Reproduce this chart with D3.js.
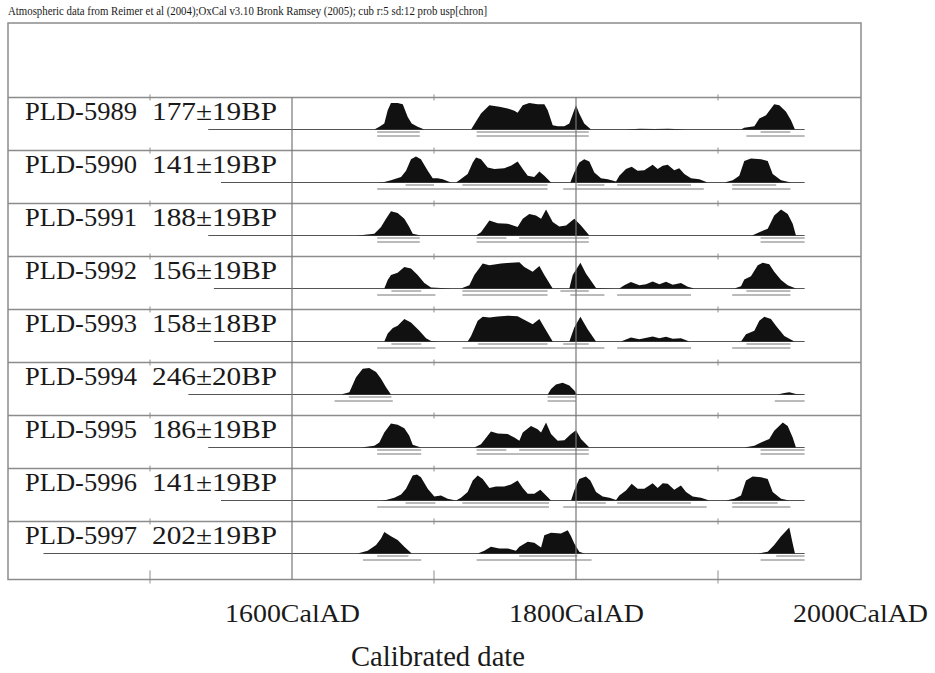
<!DOCTYPE html>
<html>
<head>
<meta charset="utf-8">
<script src="https://cdn.jsdelivr.net/npm/d3@7"></script>
<style>
  body { margin: 0; background: #fff; }
  text { font-family: "Liberation Serif", "Times New Roman", serif; fill: #1a1a1a; }
</style>
</head>
<body>
<div id="chart"></div>
<script>
// sample names and radiocarbon ages
const names = ["PLD-5989", "PLD-5990", "PLD-5991", "PLD-5992", "PLD-5993", "PLD-5994", "PLD-5995", "PLD-5996", "PLD-5997"]
const ages = ["177±19BP", "141±19BP", "188±19BP", "156±19BP", "158±18BP", "246±20BP", "186±19BP", "141±19BP", "202±19BP"]

// where the line under each distribution starts (cal AD); all end at 1961
const baseStart = [1541, 1550, 1541, 1545, 1545, 1527, 1541, 1550, 1425]
const baseEnd = 1961

// calibrated probability, [year, relative height]
const dist5989 = [[1658,0],[1661.5,.1],[1665,.21],[1667.4,.69],[1669.7,.95],[1674.4,.95],[1678,.9],[1681.5,.45],[1684.3,.21],[1688.5,.1],[1693.2,0],
  [1726.1,0],[1733.1,.57],[1739,.87],[1746,.81],[1751.9,.75],[1756.6,.67],[1758.9,.6],[1762.5,.87],[1767.1,.95],[1773,.9],[1777.7,.9],[1780.1,.69],[1783.6,.15],[1787.1,.12],[1791.8,.12],[1795.3,.21],[1800,.87],[1802.3,.57],[1805.8,.21],[1810.6,0],
  [1835,0],[1845,.03],[1855,.02],[1865,.03],[1878,0],
  [1916.2,0],[1918.5,.06],[1925.6,.12],[1929.1,.39],[1933.8,.51],[1939.6,.9],[1943.2,.87],[1947.9,.63],[1951.4,.33],[1954.2,0]]
const dist5990 = [[1660,0],[1665,.02],[1669.7,.08],[1676.8,.2],[1680.3,.42],[1683.8,.83],[1687.3,.93],[1690.8,.83],[1695.6,.42],[1699.1,.15],[1702.6,.15],[1706.1,.12],[1712,0],
  [1715.5,0],[1717.8,.08],[1723.7,.3],[1727.3,.71],[1729.6,.89],[1733.1,.83],[1737.8,.54],[1742.5,.48],[1749.5,.51],[1754.2,.6],[1758.9,.75],[1762.5,.48],[1766,.24],[1770.6,.2],[1774.2,.39],[1777.7,.24],[1782.4,0],
  [1796,0],[1798.8,.36],[1802.3,.71],[1805.8,.83],[1809.4,.75],[1812.9,.36],[1817.6,.15],[1822.3,.12],[1828.2,.04],[1830.5,.24],[1835.2,.48],[1839.2,.56],[1843.4,.42],[1848.1,.44],[1854,.63],[1857.5,.48],[1861.1,.6],[1864.6,.63],[1869.2,.44],[1872.7,.51],[1876.3,.3],[1881,.15],[1886.8,.12],[1892.7,0],
  [1904.5,0],[1910.4,.08],[1915,.24],[1918.5,.77],[1923.2,.86],[1930.3,.83],[1935,.77],[1938.5,.3],[1944.4,.08],[1951.4,0]]
const dist5991 = [[1645,0],[1649.8,.02],[1658,.06],[1662.7,.3],[1666.2,.6],[1669.7,.87],[1674.4,.8],[1679.1,.6],[1682.6,.3],[1685,.06],[1690.8,0],
  [1729.6,0],[1733.1,.12],[1739,.54],[1744.9,.44],[1751.9,.42],[1758.9,.3],[1762.5,.6],[1767.1,.77],[1771.8,.71],[1775.4,.6],[1778.9,.93],[1783.6,.48],[1788.2,.32],[1793,.36],[1798.8,.6],[1803.5,.36],[1809.4,0],
  [1924,0],[1929.1,.12],[1935,.24],[1939.6,.71],[1944.4,.93],[1949.1,.77],[1952.6,.42],[1954.9,0]]
const dist5992 = [[1665,0],[1667.4,.3],[1669.7,.48],[1674.4,.56],[1679.1,.77],[1683.8,.71],[1688.5,.48],[1693.2,.2],[1697.9,.04],[1704.9,.02],[1712,0],
  [1719,0],[1724.9,.12],[1728.4,.48],[1734.3,.89],[1739,.83],[1747.2,.89],[1754.2,.92],[1760.1,.94],[1763.6,.77],[1769.5,.6],[1774.2,.8],[1777.7,.48],[1783.6,0],
  [1795.3,0],[1797.7,.48],[1803.1,.92],[1807,.54],[1814.1,.02],[1826,0],
  [1830.5,0],[1834,.12],[1838.7,.23],[1844.6,.12],[1849.3,.15],[1854,.25],[1858.7,.15],[1863.4,.24],[1868.1,.13],[1873.9,.2],[1878.7,.06],[1883.3,0],
  [1911.5,0],[1916.2,.08],[1918.5,.32],[1923.2,.44],[1928,.83],[1931.5,.92],[1936.1,.87],[1939.6,.6],[1944.4,.3],[1949.1,.12],[1954.9,0]]
const dist5993 = [[1665,0],[1667.4,.29],[1671,.48],[1674.4,.56],[1679.1,.8],[1683.8,.68],[1689.7,.38],[1694.4,.12],[1697.9,.02],[1705,0],
  [1723.7,0],[1726.1,.2],[1730.8,.74],[1734.3,.88],[1739,.86],[1744.9,.89],[1751.9,.92],[1758.9,.9],[1762.5,.8],[1769.5,.62],[1774.2,.8],[1777.7,.5],[1783.6,0],
  [1795.3,0],[1798.8,.5],[1803.1,.88],[1808.2,.44],[1814.1,0],
  [1831.7,0],[1838.7,.14],[1844.6,.08],[1854,.18],[1858.7,.12],[1863.4,.17],[1868.1,.1],[1873.9,.12],[1879.8,0],
  [1916.2,0],[1919.7,.26],[1925.6,.38],[1929.1,.74],[1932.6,.88],[1937.3,.8],[1940.8,.56],[1946.7,.2],[1953.8,0]]
const dist5994 = [[1634.5,0],[1640.4,.08],[1645.1,.62],[1649.8,.92],[1654.4,.95],[1659.2,.8],[1662.7,.56],[1666.2,.26],[1669.7,0],
  [1780.1,0],[1782.4,.2],[1785.9,.36],[1790.6,.42],[1795.3,.32],[1798.8,.14],[1800.7,0],
  [1942,0],[1946.7,.05],[1950.2,.08],[1954.9,.02],[1960.8,0]]
const dist5995 = [[1648.6,0],[1658,.06],[1661.5,.18],[1665,.54],[1669.7,.86],[1674.4,.81],[1679.1,.69],[1682.6,.42],[1685,.1],[1690.8,0],
  [1728.4,0],[1733.1,.12],[1740.1,.57],[1744.9,.5],[1751.9,.48],[1756.6,.36],[1760.1,.24],[1762.5,.54],[1768.3,.77],[1773,.65],[1775.4,.54],[1778.9,.89],[1782.4,.48],[1787.1,.24],[1791.8,.26],[1796.5,.48],[1800,.62],[1803.5,.3],[1809.4,0],
  [1918.5,0],[1925.6,.06],[1930.3,.18],[1936.1,.3],[1939.6,.6],[1945.6,.89],[1949.1,.77],[1952.6,.36],[1954.9,0]]
const dist5996 = [[1662,0],[1666.2,.02],[1672.1,.1],[1676.8,.21],[1680.3,.42],[1685,.89],[1688,.93],[1690.8,.83],[1695.6,.42],[1700.2,.14],[1704.9,.18],[1709.6,.06],[1715.5,0],
  [1719,.1],[1723.7,.3],[1727.3,.71],[1730.8,.89],[1734.3,.77],[1739,.45],[1743.7,.5],[1749.5,.5],[1754.2,.57],[1758.9,.71],[1762.5,.45],[1766,.24],[1770.6,.24],[1774.9,.38],[1777.7,.24],[1782.4,0],
  [1796.5,0],[1798.8,.36],[1802.3,.77],[1807,.86],[1810.1,.71],[1814.1,.3],[1818.8,.14],[1823.5,.1],[1828.2,.02],[1830.5,.18],[1835.2,.36],[1839.2,.6],[1843.4,.42],[1848.1,.42],[1854,.62],[1857.5,.45],[1861.1,.62],[1864.6,.6],[1869.2,.38],[1873.9,.54],[1877.5,.3],[1882.2,.14],[1888,.1],[1893.9,0],
  [1905.6,0],[1911.5,.06],[1916.2,.18],[1919.7,.71],[1924.4,.86],[1930.3,.83],[1935,.77],[1938.5,.3],[1944.4,.06],[1950.2,0]]
const dist5997 = [[1646.2,0],[1653.3,.1],[1659.2,.3],[1662.7,.54],[1665,.77],[1669.7,.62],[1674.4,.48],[1679.1,.24],[1684.3,0],
  [1730.8,0],[1735.4,.1],[1740.1,.24],[1746,.18],[1751.9,.18],[1757.7,.1],[1760.1,.24],[1766,.42],[1770.6,.38],[1775.4,.21],[1777.7,.65],[1782.4,.74],[1789.4,.71],[1794.2,.83],[1796.5,.62],[1798.8,.36],[1802.3,.06],[1805.8,0],
  [1928,0],[1935,.06],[1939.6,.3],[1944.4,.62],[1950.2,.93],[1952.6,.36],[1954.2,0]]
const dists = [dist5989, dist5990, dist5991, dist5992, dist5993, dist5994, dist5995, dist5996, dist5997]

// 68.2% and 95.4% ranges (cal AD)
const range68 = [
  [[1660,1690],[1730,1809],[1930,1951]],
  [[1680,1700],[1720,1780],[1801,1820],[1829,1881],[1910,1941]],
  [[1660,1690],[1730,1751],[1760,1809],[1930,1961]],
  [[1670,1691],[1720,1780],[1789,1809],[1920,1951]],
  [[1670,1691],[1731,1780],[1791,1809],[1920,1951]],
  [[1640,1670],[1780,1800]],
  [[1660,1691],[1730,1751],[1760,1809],[1930,1961]],
  [[1680,1701],[1720,1781],[1801,1821],[1829,1881],[1910,1942]],
  [[1660,1682],[1760,1801],[1941,1961]]
]
const range95 = [
  [[1660,1690],[1730,1809],[1920,1961]],
  [[1660,1780],[1791,1890],[1910,1951]],
  [[1660,1690],[1730,1809],[1930,1961]],
  [[1660,1701],[1720,1780],[1796,1820],[1829,1881],[1910,1951]],
  [[1660,1701],[1720,1820],[1829,1881],[1910,1951]],
  [[1630,1671],[1780,1800],[1940,1961]],
  [[1660,1691],[1730,1809],[1930,1961]],
  [[1660,1781],[1791,1892],[1910,1951]],
  [[1650,1691],[1730,1811],[1930,1961]]
]

const gridYears = [1600, 1800]
const tickYears = [1500, 1700, 1900]
const labelYears = [1600, 1800, 2000]
const headerText = "Atmospheric data from Reimer et al (2004);OxCal v3.10 Bronk Ramsey (2005); cub r:5 sd:12 prob usp[chron]"

let dims = { width: 935, height: 673, left: 8, right: 861, top: 23, rowsTop: 97.5, bottom: 579.5 }

const svg = d3.select("#chart").append("svg")
    .attr("width", dims.width)
    .attr("height", dims.height)

const x = d3.scaleLinear().domain([1400, 2000]).range([dims.left, 860])
const rowY = d3.scaleBand().domain(names).range([dims.rowsTop, dims.rowsTop + 53 * names.length])
const h = d3.scaleLinear().domain([0, 1]).range([0, 28])

svg.append("text")
    .attr("x", 8).attr("y", 15)
    .attr("font-size", "12px")
    .attr("textLength", 479).attr("lengthAdjust", "spacingAndGlyphs")
    .text(headerText)

// frame
svg.append("rect")
    .attr("x", dims.left).attr("y", dims.top)
    .attr("width", dims.right - dims.left).attr("height", dims.bottom - dims.top)
    .attr("fill", "none").attr("stroke", "#8c8c8c").attr("stroke-width", 1.5)

const rows = svg.selectAll("g.row")
    .data(names)
    .enter()
    .append("g")
    .attr("class", "row")
    .attr("transform", d => `translate(0,${rowY(d)})`)

// row separators with small ticks
rows.append("line")
    .attr("x1", dims.left).attr("x2", dims.right)
    .attr("y1", 0).attr("y2", 0)
    .attr("stroke", "#8c8c8c").attr("stroke-width", 1.3)
rows.selectAll("line.tick")
    .data(tickYears)
    .enter()
    .append("line")
    .attr("class", "tick")
    .attr("x1", d => x(d)).attr("x2", d => x(d))
    .attr("y1", -3).attr("y2", 3)
    .attr("stroke", "#8c8c8c")

// full grid lines at 1600 and 1800
svg.selectAll("line.grid")
    .data(gridYears)
    .enter()
    .append("line")
    .attr("class", "grid")
    .attr("x1", d => x(d)).attr("x2", d => x(d))
    .attr("y1", dims.rowsTop).attr("y2", dims.bottom)
    .attr("stroke", "#777").attr("stroke-width", 1.2)

// bottom ticks
svg.selectAll("line.btick")
    .data(tickYears)
    .enter()
    .append("line")
    .attr("class", "btick")
    .attr("x1", d => x(d)).attr("x2", d => x(d))
    .attr("y1", dims.bottom - 9).attr("y2", dims.bottom + 4)
    .attr("stroke", "#8c8c8c")

const area = d3.area()
    .x(d => x(d[0]))
    .y0(32)
    .y1(d => 32 - h(d[1]))

rows.each(function (name, i) {
    const g = d3.select(this)

    g.append("text")
        .attr("x", 25).attr("y", 22)
        .attr("font-size", "26px")
        .attr("textLength", 112).attr("lengthAdjust", "spacingAndGlyphs")
        .text(name)
    g.append("text")
        .attr("x", 152).attr("y", 22)
        .attr("font-size", "26px")
        .attr("textLength", 125).attr("lengthAdjust", "spacingAndGlyphs")
        .text(ages[i])

    g.append("line")
        .attr("x1", x(baseStart[i])).attr("x2", x(baseEnd))
        .attr("y1", 32).attr("y2", 32)
        .attr("stroke", "#555").attr("stroke-width", 1)

    g.append("path")
        .datum(dists[i])
        .attr("d", area)
        .attr("fill", "#111")

    g.selectAll("line.r68")
        .data(range68[i])
        .enter()
        .append("line")
        .attr("x1", d => x(d[0])).attr("x2", d => x(d[1]))
        .attr("y1", 34.5).attr("y2", 34.5)
        .attr("stroke", "#777").attr("stroke-width", 1)
    g.selectAll("line.r95")
        .data(range95[i])
        .enter()
        .append("line")
        .attr("x1", d => x(d[0])).attr("x2", d => x(d[1]))
        .attr("y1", 38.5).attr("y2", 38.5)
        .attr("stroke", "#777").attr("stroke-width", 1)
})

svg.selectAll("text.xlab")
    .data(labelYears)
    .enter()
    .append("text")
    .attr("class", "xlab")
    .attr("x", d => x(d) - 67)
    .attr("y", 622)
    .attr("font-size", "25px")
    .attr("textLength", 135).attr("lengthAdjust", "spacingAndGlyphs")
    .text(d => d + "CalAD")

svg.append("text")
    .attr("x", 351).attr("y", 666)
    .attr("font-size", "29px")
    .attr("textLength", 174).attr("lengthAdjust", "spacingAndGlyphs")
    .text("Calibrated date")
</script>
</body>
</html>
